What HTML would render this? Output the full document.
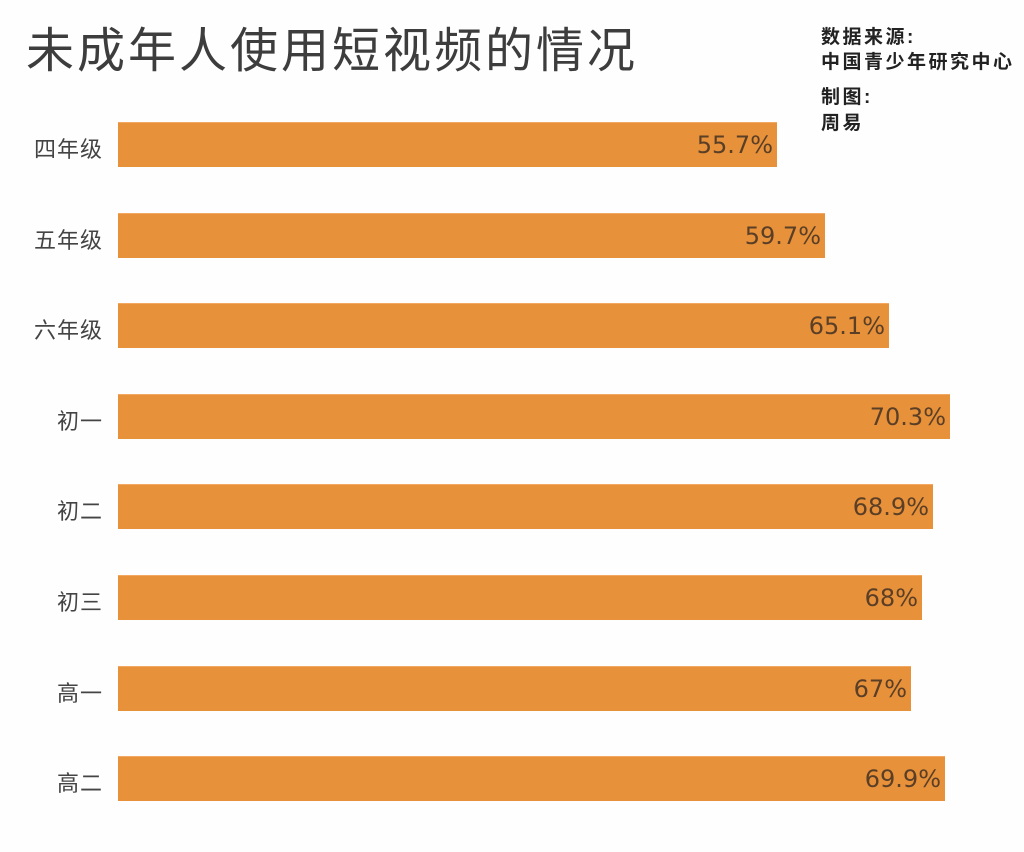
<!DOCTYPE html>
<html>
<head>
<meta charset="utf-8">
<style>
  html, body { margin:0; padding:0; }
  body { width:1024px; height:852px; background:#fefefe; position:relative; overflow:hidden;
         font-family:"Liberation Sans","Noto Sans CJK SC",sans-serif; }
  .title { position:absolute; left:26px; top:23px; font-size:48px; letter-spacing:3px; color:#3d3d3d;
           font-family:"Liberation Sans","Noto Sans CJK SC",sans-serif; line-height:58px; white-space:nowrap; }
  .src { position:absolute; left:821px; font-size:19px; font-weight:bold; color:#222; line-height:24px; letter-spacing:2.5px; white-space:nowrap;
         font-family:"Liberation Sans","Noto Sans CJK SC",sans-serif; }
  .cat { position:absolute; right:921px; font-size:22px; color:#444; line-height:45px; height:45px; white-space:nowrap; letter-spacing:1px;
         font-family:"Liberation Sans","Noto Sans CJK SC",sans-serif; margin-top:5px; }
  .bar { position:absolute; left:118px; height:45px; background:#e8913b; box-shadow: inset 0 1px 0 #f2a860; }
  .val { position:absolute; right:4px; top:1px; line-height:45px; font-size:24px; color:#5a3f26;
         font-family:"DejaVu Sans","Liberation Sans",sans-serif; }
</style>
</head>
<body>
  <div class="title">未成年人使用短视频的情况</div>
  <div class="src" style="top:26px;">数据来源:</div>
  <div class="src" style="top:51px;">中国青少年研究中心</div>
  <div class="src" style="top:86px;">制图:</div>
  <div class="src" style="top:112px;">周易</div>

  <div class="cat" style="top:122px;">四年级</div>
  <div class="bar" style="top:122px;width:659px;"><span class="val">55.7%</span></div>

  <div class="cat" style="top:212.6px;">五年级</div>
  <div class="bar" style="top:212.6px;width:707px;"><span class="val">59.7%</span></div>

  <div class="cat" style="top:303.2px;">六年级</div>
  <div class="bar" style="top:303.2px;width:771px;"><span class="val">65.1%</span></div>

  <div class="cat" style="top:393.8px;">初一</div>
  <div class="bar" style="top:393.8px;width:832px;"><span class="val">70.3%</span></div>

  <div class="cat" style="top:484.4px;">初二</div>
  <div class="bar" style="top:484.4px;width:815px;"><span class="val">68.9%</span></div>

  <div class="cat" style="top:575px;">初三</div>
  <div class="bar" style="top:575px;width:804px;"><span class="val">68%</span></div>

  <div class="cat" style="top:665.6px;">高一</div>
  <div class="bar" style="top:665.6px;width:793px;"><span class="val">67%</span></div>

  <div class="cat" style="top:756.2px;">高二</div>
  <div class="bar" style="top:756.2px;width:827px;"><span class="val">69.9%</span></div>
</body>
</html>
